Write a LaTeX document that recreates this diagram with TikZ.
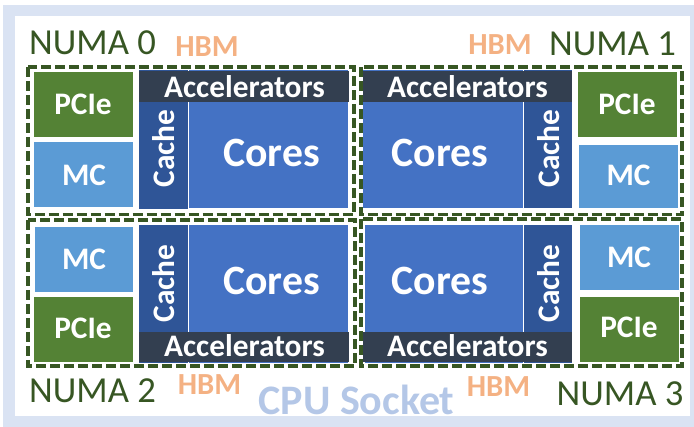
\documentclass[tikz,border=0pt]{standalone}
\usepackage{fontspec}
\setmainfont{Carlito}

\definecolor{socketband}{HTML}{DAE3F3}
\definecolor{socketlabel}{HTML}{B4C7E7}
\definecolor{numagreen}{HTML}{375623}
\definecolor{hbmorange}{HTML}{F4B183}
\definecolor{pciegreen}{HTML}{548235}
\definecolor{mcblue}{HTML}{5B9BD5}
\definecolor{cacheblue}{HTML}{2F5597}
\definecolor{coreblue}{HTML}{4472C4}
\definecolor{accelslate}{HTML}{333F50}

\tikzset{
  pciebox/.style={fill=pciegreen},
  mcbox/.style={fill=mcblue},
  cachebox/.style={fill=cacheblue},
  corebox/.style={fill=coreblue},
  accelbox/.style={fill=accelslate},
  numaframe/.style={draw=numagreen, line width=2.6pt, dash pattern=on 7.5pt off 3pt},
  blocktext/.style={inner sep=0pt, text=white, font=\fontsize{23.5}{26}\selectfont\bfseries, anchor=base},
  coretext/.style={inner sep=0pt, text=white, font=\fontsize{31.3}{34}\selectfont\bfseries, anchor=base},
  cachetext/.style={inner sep=0pt, text=white, font=\fontsize{23.5}{26}\selectfont\bfseries, rotate=90, anchor=center},
  numatext/.style={inner sep=0pt, text=numagreen, font=\fontsize{27.5}{30}\selectfont, anchor=base},
  hbmtext/.style={inner sep=0pt, text=hbmorange, font=\fontsize{23}{26}\selectfont\bfseries, anchor=base},
  sockettext/.style={inner sep=0pt, text=socketlabel, font=\fontsize{31.5}{34}\selectfont\bfseries, anchor=base},
}

\begin{document}
\begin{tikzpicture}[x=0.75pt, y=-0.75pt]
\useasboundingbox (0,0) rectangle (694,427);

% socket outline
\draw[socketband, line width=8.6pt] (9,10.5) rectangle (696,421.5);

% ---- NUMA 0 (top left) ----
\fill[pciebox]  (34,72)   rectangle (133,137);
\fill[mcbox]    (34,142)  rectangle (133,207);
\fill[cachebox] (139,70)  rectangle (188,209);
\fill[corebox]  (189,70)  rectangle (348,208);
\fill[accelbox] (139,71)  rectangle (349,102);

% ---- NUMA 1 (top right) ----
\fill[corebox]  (363,70)  rectangle (523,208);
\fill[cachebox] (524,70)  rectangle (572,208);
\fill[accelbox] (363,71)  rectangle (572,102);
\fill[pciebox]  (578,72)  rectangle (677,137);
\fill[mcbox]    (579,145) rectangle (678,208);

% ---- NUMA 2 (bottom left) ----
\fill[mcbox]    (35,227)  rectangle (133,292);
\fill[pciebox]  (34,297)  rectangle (133,362);
\fill[cachebox] (139,225) rectangle (188,363);
\fill[corebox]  (189,225) rectangle (348,363);
\fill[accelbox] (139,332) rectangle (349,362);

% ---- NUMA 3 (bottom right) ----
\fill[corebox]  (365,225) rectangle (523,363);
\fill[cachebox] (524,225) rectangle (572,363);
\fill[accelbox] (363,332) rectangle (572,362);
\fill[mcbox]    (580,225) rectangle (679,290);
\fill[pciebox]  (580,297) rectangle (679,362);

% NUMA domain frames
\draw[numaframe] (28,67)   rectangle (354,214.5);
\draw[numaframe] (361,67)  rectangle (682,214.5);
\draw[numaframe] (28,220)  rectangle (355,366);
\draw[numaframe] (361,219) rectangle (682,366);

% block labels, NUMA 0
\node[blocktext] (acc0)   at (244.5,98)  {Accelerators};
\node[coretext]  (cores0) at (271.5,167) {Cores};
\node[cachetext] (cache0) at (164,148.5) {Cache};
\node[blocktext] (pcie0)  at (83,115)    {PCIe};
\node[blocktext] (mc0)    at (84,186)    {MC};

% block labels, NUMA 1
\node[blocktext] (acc1)   at (467.5,98)  {Accelerators};
\node[coretext]  (cores1) at (440,167)   {Cores};
\node[cachetext] (cache1) at (549,148.5) {Cache};
\node[blocktext] (pcie1)  at (627,115)   {PCIe};
\node[blocktext] (mc1)    at (628.5,186) {MC};

% block labels, NUMA 2
\node[blocktext] (acc2)   at (244.5,357) {Accelerators};
\node[coretext]  (cores2) at (271.5,295) {Cores};
\node[cachetext] (cache2) at (164,283.5) {Cache};
\node[blocktext] (pcie2)  at (83,339)    {PCIe};
\node[blocktext] (mc2)    at (84,270)    {MC};

% block labels, NUMA 3
\node[blocktext] (acc3)   at (467.5,357) {Accelerators};
\node[coretext]  (cores3) at (440,295)   {Cores};
\node[cachetext] (cache3) at (548.5,283.5) {Cache};
\node[blocktext] (pcie3)  at (629,338)   {PCIe};
\node[blocktext] (mc3)    at (629,268)   {MC};

% NUMA and HBM captions
\node[numatext] (numa0) at (92.5,55)  {NUMA 0};
\node[hbmtext]  (hbm0)  at (207,57)   {HBM};
\node[numatext] (numa1) at (612.5,56) {NUMA 1};
\node[hbmtext]  (hbm1)  at (500,55)   {HBM};
\node[numatext] (numa2) at (92.5,403) {NUMA 2};
\node[hbmtext]  (hbm2)  at (209.5,395) {HBM};
\node[numatext] (numa3) at (620,406)  {NUMA 3};
\node[hbmtext]  (hbm3)  at (498.5,397) {HBM};

% socket caption
\node[sockettext] (socket) at (356.5,415) {CPU Socket};
\end{tikzpicture}
\end{document}
